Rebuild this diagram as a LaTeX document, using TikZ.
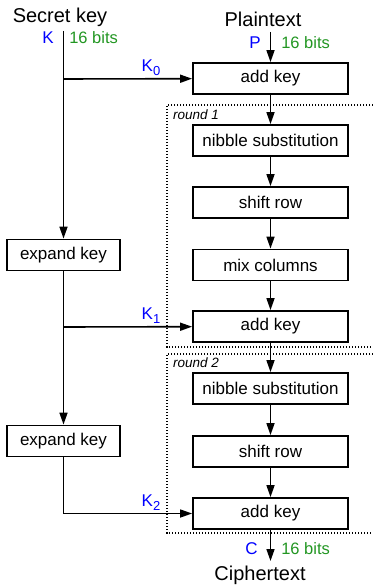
\documentclass[tikz,border=0pt]{standalone}
\usepackage{fontspec}
\setmainfont{Liberation Sans}
\usetikzlibrary{arrows.meta}

\definecolor{bitgreen}{RGB}{34,150,34}

\newcommand{\keysub}[1]{K\raisebox{-4.5pt}{\fontsize{13}{15}\selectfont #1}}

\begin{document}
\begin{tikzpicture}[x=1pt,y=-1pt,
        block/.style={draw,line width=1.8pt,minimum width=155pt,minimum height=31pt,inner sep=0pt,font=\fontsize{17}{20}\selectfont},
        keyblock/.style={block,minimum width=113pt},
        title/.style={anchor=base,inner sep=0pt,font=\fontsize{20}{24}\selectfont},
        sym/.style={text=blue,inner sep=9pt,font=\fontsize{17}{20}\selectfont},
        bits/.style={text=bitgreen,inner sep=10pt,font=\fontsize{16.5}{20}\selectfont},
        roundbox/.style={line width=1.3pt,dash pattern=on 1.3pt off 1.7pt},
        roundlabel/.style={anchor=north west,inner sep=0pt,font=\fontsize{13.5}{16}\selectfont\itshape},
        >={Triangle[length=12pt,width=8pt]}]
        \useasboundingbox (0,0) rectangle (372,585);

        % the two rounds
        \draw[roundbox] (400,105) -- (167,105) -- (167,347) -- (400,347);
        \draw[roundbox] (400,354) -- (167,354) -- (167,533) -- (400,533);
        \node[roundlabel] at (173,110) (r1) {round 1};
        \node[roundlabel] at (173,358) (r2) {round 2};

        \node[title] at (60,23) (sk) {Secret key};
        \node[title] at (263,27) (pt) {Plaintext};
        \node[title] at (260,580) (ct) {Ciphertext};

        \node[block] at (270.5,78.5) (ak0) {add key};
        \node[block] at (270.5,140.5) (ns1) {nibble substitution};
        \node[block] at (270.5,202.5) (sr1) {shift row};
        \node[block] at (270.5,265) (mc1) {mix columns};
        \node[block] at (270.5,326.5) (ak1) {add key};
        \node[block] at (270.5,388.5) (ns2) {nibble substitution};
        \node[block] at (270.5,451.5) (sr2) {shift row};
        \node[block] at (270.5,513.5) (ak2) {add key};

        \node[keyblock] at (63.5,255) (ek1) {expand key};
        \node[keyblock] at (63.5,441) (ek2) {expand key};

        \coordinate (kin) at (63.5,31);
        \coordinate (k0) at (63.5,79);
        \coordinate (k1) at (63.5,327);
        \coordinate (pin) at (270.5,32);
        \coordinate (cout) at (270.5,561);

        \path[->,line width=1.6pt]
        (kin) edge node [sym,left,pos=0.03] {K} node [bits,right,pos=0.03,inner sep=5pt] {16 bits} (ek1)
        (k0) edge node [sym,above,pos=0.68,inner sep=2pt] {\keysub{0}} (ak0)
        (ek1) edge (ek2)
        (k1) edge node [sym,above,pos=0.68,inner sep=2pt] {\keysub{1}} (ak1)

        (pin) edge node [sym,left,pos=0.35] {P} node [bits,right,pos=0.35] {16 bits} (ak0)
        (ak0) edge (ns1)
        (ns1) edge (sr1)
        (sr1) edge (mc1)
        (mc1) edge (ak1)
        (ak1) edge (ns2)
        (ns2) edge (sr2)
        (sr2) edge (ak2)
        (ak2) edge node [sym,left,pos=0.6,inner sep=12pt] {C} node [bits,right,pos=0.6] {16 bits} (cout)
        ;
        \draw[->,line width=1.6pt] (ek2) |- node [sym,above,pos=0.84,inner sep=2pt] {\keysub{2}} (ak2);
    \end{tikzpicture}
\end{document}
